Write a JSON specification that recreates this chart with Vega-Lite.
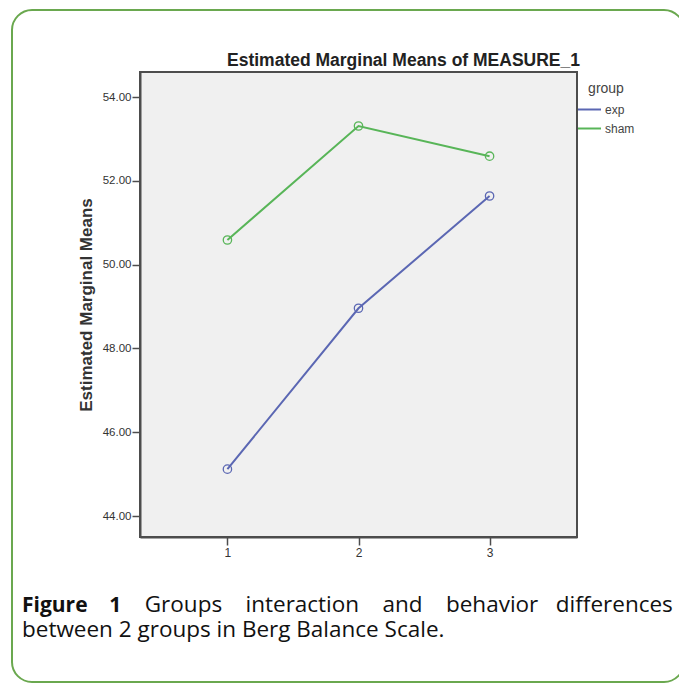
{
  "$schema": "https://vega.github.io/schema/vega-lite/v6.json",
  "autosize": {"type": "none"},
  "padding": {"left": 140, "top": 72, "right": 102, "bottom": 146},
  "width": 437,
  "height": 465,
  "background": "white",
  "config": {"font": "Liberation Sans", "legend": {"strokeWidth": 2}},
  "view": {"fill": "#f0f0f0", "stroke": "#4d4d4d", "strokeWidth": 2},
  "title": {
    "text": "Figure\u00a0\u00a0\u00a0\u00a01",
    "subtitle": [
      "\u200b\u00a0\u00a0\u00a0\u00a0\u00a0\u00a0\u00a0\u00a0\u00a0\u00a0\u00a0\u00a0\u00a0\u00a0\u00a0\u00a0\u00a0\u00a0\u00a0\u00a0\u00a0Groups\u00a0\u00a0\u00a0\u00a0interaction\u00a0\u00a0\u00a0\u00a0and\u00a0\u00a0\u00a0\u00a0behavior\u00a0\u00a0\u00a0differences",
      "between 2 groups in Berg Balance Scale."
    ],
    "orient": "bottom",
    "anchor": "start",
    "frame": "group",
    "offset": -88,
    "dx": -118,
    "font": "Open Sans",
    "fontSize": 21,
    "fontWeight": "bold",
    "color": "#111111",
    "subtitleFont": "Open Sans",
    "subtitleFontSize": 22.5,
    "subtitleFontWeight": "normal",
    "subtitleColor": "#111111",
    "subtitlePadding": -22,
    "subtitleLineHeight": 25
  },
  "data": {
    "values": [
      {"group": "exp", "time": "1", "mean": 45.12},
      {"group": "exp", "time": "2", "mean": 48.96},
      {"group": "exp", "time": "3", "mean": 51.64},
      {"group": "sham", "time": "1", "mean": 50.59},
      {"group": "sham", "time": "2", "mean": 53.31},
      {"group": "sham", "time": "3", "mean": 52.59}
    ]
  },
  "resolve": {"axis": {"x": "independent"}},
  "layer": [
    {
      "mark": {"type": "line", "strokeWidth": 2},
      "encoding": {
        "x": {
          "field": "time",
          "type": "ordinal",
          "scale": {"type": "point", "padding": 0.667},
          "axis": {
            "title": null,
            "labelAngle": 0,
            "labelFontSize": 12,
            "labelColor": "#333333",
            "labelPadding": 2,
            "tickSize": 8,
            "tickColor": "#4d4d4d",
            "tickWidth": 1.5,
            "domainColor": "#4d4d4d",
            "domainWidth": 2,
            "grid": false
          }
        },
        "y": {
          "field": "mean",
          "type": "quantitative",
          "scale": {"domain": [43.5, 54.6], "nice": false, "zero": false},
          "axis": {
            "title": "Estimated Marginal Means",
            "titleFontSize": 17,
            "titleFontWeight": "bold",
            "titleColor": "#333333",
            "titlePadding": 7,
            "values": [44, 46, 48, 50, 52, 54],
            "format": ".2f",
            "labelFontSize": 11.5,
            "labelColor": "#333333",
            "labelPadding": 1,
            "tickSize": 8,
            "tickColor": "#4d4d4d",
            "tickWidth": 1.5,
            "domainColor": "#4d4d4d",
            "domainWidth": 2,
            "grid": false
          }
        },
        "color": {
          "field": "group",
          "type": "nominal",
          "scale": {"domain": ["exp", "sham"], "range": ["#5b67b3", "#58b558"]},
          "legend": {
            "title": "group",
            "orient": "right",
            "offset": -10,
            "padding": 10,
            "symbolType": "stroke",
            "symbolSize": 529,
            "symbolStrokeWidth": 2,
            "labelFontSize": 12,
            "labelColor": "#444444",
            "labelOffset": 3,
            "titleFontSize": 14,
            "titleFontWeight": "normal",
            "titleColor": "#444444",
            "titleAnchor": "middle",
            "titlePadding": 1,
            "rowPadding": -7
          }
        }
      }
    },
    {
      "mark": {"type": "point", "filled": false, "size": 70, "strokeWidth": 1.3, "opacity": 1},
      "encoding": {
        "x": {
          "field": "time",
          "type": "ordinal",
          "axis": {
            "orient": "top",
            "title": "Estimated Marginal Means of MEASURE_1",
            "labels": false,
            "ticks": false,
            "domain": false,
            "grid": false,
            "titleFontSize": 17.5,
            "titleFontWeight": "bold",
            "titleColor": "#222222",
            "titleX": 263,
            "titleY": -7,
            "titleAlign": "center",
            "titleBaseline": "alphabetic"
          }
        },
        "y": {"field": "mean", "type": "quantitative"},
        "color": {"field": "group", "type": "nominal"},
        "shape": {
          "datum": "frame",
          "type": "nominal",
          "scale": {"range": ["circle"]},
          "legend": {
            "orient": "none",
            "legendX": -128,
            "legendY": -62,
            "padding": 333,
            "strokeColor": "#6aa84f",
            "cornerRadius": 20,
            "title": null,
            "labelExpr": "''",
            "labelFontSize": 6,
            "labelOffset": 0,
            "symbolSize": 0,
            "symbolOpacity": 0,
            "symbolStrokeWidth": 0
          }
        }
      }
    }
  ]
}
